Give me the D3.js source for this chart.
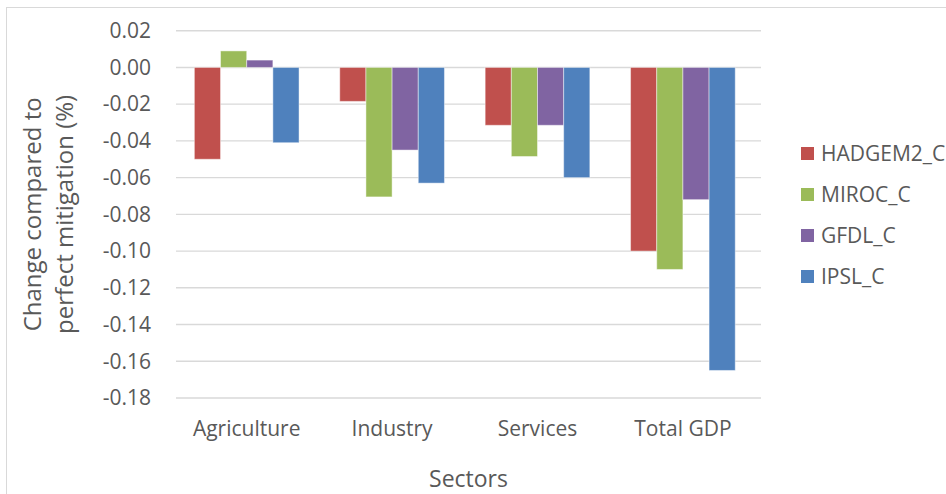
<!DOCTYPE html>
<html>
<head>
<meta charset="utf-8">
<script src="https://cdn.jsdelivr.net/npm/d3@7"></script>
<style>
  html, body { margin: 0; padding: 0; background: #fff; }
  svg { display: block; }
  text { font-family: "Open Sans", "Liberation Sans", sans-serif; fill: #595959; }
</style>
</head>
<body>
<svg id="chart" width="946" height="494"></svg>
<script>
// Sectors on the x axis
const categories = ["Agriculture", "Industry", "Services", "Total GDP"];

// Climate model series (change compared to perfect mitigation, %)
const seriesNames = ["HADGEM2_C", "MIROC_C", "GFDL_C", "IPSL_C"];
const seriesColors = ["#C0504D", "#9BBB59", "#8064A2", "#4F81BD"];
const hadgem2 = [-0.050, -0.0185, -0.0315, -0.100];
const miroc   = [0.009, -0.0705, -0.0485, -0.110];
const gfdl    = [0.004, -0.045, -0.0315, -0.072];
const ipsl    = [-0.041, -0.063, -0.060, -0.165];
const seriesValues = [hadgem2, miroc, gfdl, ipsl];

// Y axis ticks
const yTicks = [0.02, 0.00, -0.02, -0.04, -0.06, -0.08, -0.10, -0.12, -0.14, -0.16, -0.18];

const svg = d3.select("#chart");

// Outer chart frame
svg.append("rect")
  .attr("x", 6.5).attr("y", 7.5)
  .attr("width", 960).attr("height", 500)
  .attr("fill", "none").attr("stroke", "#d9d9d9").attr("stroke-width", 1);

const plot = { left: 176, right: 761, top: 30.7, bottom: 398 };

const y = d3.scaleLinear().domain([-0.18, 0.02]).range([plot.bottom, plot.top]);
const x0 = d3.scaleBand().domain(categories).range([174, 174 + 4 * 145.4])
  .paddingInner(0.28).paddingOuter(0.14);
const x1 = d3.scaleBand().domain(seriesNames).range([0, x0.bandwidth()]);

// Horizontal gridlines
svg.append("g").selectAll("line").data(yTicks).join("line")
  .attr("x1", plot.left).attr("x2", plot.right)
  .attr("y1", d => y(d)).attr("y2", d => y(d))
  .attr("stroke", "#d9d9d9").attr("stroke-width", 1.4);

// Y axis tick labels
const yAxis = d3.axisLeft(y).tickValues(yTicks).tickFormat(d3.format(".2f")).tickSize(0).tickPadding(25);
const gy = svg.append("g").attr("transform", `translate(${plot.left},0)`).call(yAxis);
gy.select(".domain").remove();
gy.selectAll("text").attr("font-size", 21).style("font-family", "'Open Sans', sans-serif").attr("fill", "#595959")
  .text(d => d3.format(".2f")(d).replace("−", "-"));

// Bars
const rows = categories.map((c, i) => ({ cat: c, vals: seriesNames.map((s, j) => ({ s, j, v: seriesValues[j][i] })) }));
const groups = svg.append("g").selectAll("g").data(rows).join("g")
  .attr("transform", d => `translate(${x0(d.cat)},0)`);
groups.selectAll("rect").data(d => d.vals).join("rect")
  .attr("x", d => x1(d.s))
  .attr("width", x1.bandwidth())
  .attr("y", d => y(Math.max(0, d.v)))
  .attr("height", d => Math.abs(y(d.v) - y(0)))
  .attr("fill", d => seriesColors[d.j])
  .attr("stroke", "#ffffff").attr("stroke-opacity", 0.45).attr("stroke-width", 1);

// X axis category labels
const xAxis = d3.axisBottom(x0).tickSize(0).tickPadding(0);
const gx = svg.append("g").attr("transform", `translate(0,${plot.bottom + 23})`).call(xAxis);
gx.select(".domain").remove();
gx.selectAll("text").attr("font-size", 21).style("font-family", "'Open Sans', sans-serif").attr("fill", "#595959");

// Axis titles
svg.append("text").attr("x", (plot.left + plot.right) / 2).attr("y", 487)
  .attr("text-anchor", "middle").attr("font-size", 23).text("Sectors");

const yt = svg.append("text").attr("transform", `translate(0,${(plot.top + plot.bottom) / 2}) rotate(-90)`)
  .attr("text-anchor", "middle").attr("font-size", 24);
yt.append("tspan").attr("x", 0).attr("y", 41).text("Change compared to");
yt.append("tspan").attr("x", 0).attr("y", 73).text("perfect mitigation (%)");

// Legend
const legend = svg.append("g").selectAll("g").data(seriesNames).join("g")
  .attr("transform", (d, i) => `translate(801,${154 + i * 41})`);
legend.append("rect").attr("x", 0).attr("y", -7).attr("width", 13).attr("height", 13)
  .attr("fill", (d, i) => seriesColors[i]);
legend.append("text").attr("x", 20).attr("y", 0).attr("dy", "0.35em")
  .attr("font-size", 21).text(d => d);
</script>
</body>
</html>
